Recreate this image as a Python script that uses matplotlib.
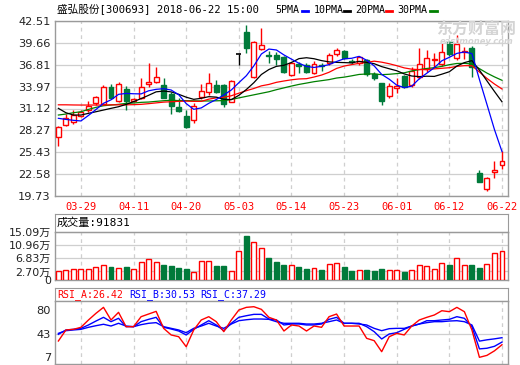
import matplotlib
matplotlib.use('Agg')
import matplotlib.pyplot as plt
from matplotlib.patches import Rectangle
from matplotlib.lines import Line2D
import pandas as pd

plt.rcParams['font.family'] = ['DejaVu Sans', 'Noto Sans CJK SC']

W, H = 520, 365

# OHLC theo ngày (60 phiên, 03-26 .. 06-22)
opens = [27.37, 28.97, 29.40, 30.18, 30.92, 31.79, 31.66, 33.96, 32.09, 33.66,
         32.09, 32.45, 34.31, 34.53, 34.18, 33.00, 31.31, 30.14, 29.62, 32.65,
         33.23, 34.18, 34.18, 32.00, 38.17, 41.12, 35.26, 38.83, 38.05, 38.08,
         37.86, 35.48, 36.85, 36.78, 35.70, 36.80, 37.08, 38.17, 38.60, 37.30,
         37.00, 37.43, 35.57, 34.40, 32.80, 33.80, 35.30, 34.20, 35.20, 36.20,
         37.40, 36.90, 39.72, 37.65, 38.50, 39.03, 22.76, 20.60, 22.80, 23.72]
closes = [28.71, 29.92, 30.27, 30.70, 31.48, 32.58, 33.96, 32.52, 34.27, 32.09,
          32.35, 33.88, 34.53, 35.22, 32.52, 31.48, 30.83, 28.75, 31.48, 33.43,
          34.48, 33.30, 31.70, 34.74, 38.17, 39.04, 39.74, 39.39, 37.95, 37.56,
          35.83, 37.00, 36.70, 35.91, 36.87, 36.60, 38.08, 38.74, 37.65, 37.21,
          37.86, 35.57, 35.05, 32.09, 34.10, 34.00, 33.96, 36.00, 36.90, 37.70,
          37.60, 38.47, 38.25, 39.46, 38.60, 36.56, 21.59, 22.04, 23.10, 24.28]
highs = [28.80, 30.36, 30.90, 30.88, 32.09, 32.75, 34.18, 34.31, 34.61, 34.09,
         32.50, 35.13, 37.00, 36.56, 35.13, 33.23, 32.45, 30.92, 31.79, 34.31,
         35.70, 34.83, 34.31, 34.83, 38.17, 41.99, 39.90, 41.56, 38.60, 38.43,
         38.00, 37.20, 37.20, 37.00, 37.30, 37.00, 38.30, 39.03, 38.70, 37.50,
         38.00, 37.60, 35.90, 34.50, 34.40, 35.05, 35.50, 36.50, 38.95, 38.74,
         38.30, 39.69, 39.90, 40.69, 39.10, 39.25, 23.10, 22.20, 24.28, 25.55]
lows = [26.23, 28.84, 29.10, 30.00, 30.66, 31.60, 31.57, 32.44, 31.92, 30.92,
        31.95, 32.35, 33.96, 34.40, 32.45, 30.44, 30.70, 28.54, 29.19, 32.35,
        32.87, 33.10, 31.35, 31.92, 36.78, 38.38, 35.13, 38.70, 37.00, 36.78,
        35.70, 35.40, 35.70, 35.80, 35.57, 36.00, 36.80, 38.00, 37.50, 36.90,
        36.80, 35.40, 34.80, 31.57, 32.45, 33.18, 33.80, 33.90, 35.00, 35.90,
        36.50, 36.60, 38.00, 37.40, 37.50, 35.20, 21.50, 20.42, 22.10, 23.23]

# khối lượng (万)
volumes = [2.89, 3.21, 3.53, 3.32, 3.32, 3.96, 4.82, 3.96, 3.85, 4.17,
           3.32, 5.67, 6.74, 5.78, 4.82, 4.49, 3.64, 3.32, 2.57, 6.10,
           6.10, 4.49, 4.49, 2.89, 8.99, 13.80, 12.10, 10.17, 6.85, 5.56,
           4.82, 4.71, 4.17, 3.53, 3.74, 3.21, 5.03, 5.35, 4.17, 2.89,
           3.21, 3.21, 2.89, 3.53, 3.21, 3.21, 2.57, 3.21, 4.71, 4.39,
           3.53, 5.35, 4.82, 6.96, 4.71, 4.82, 3.85, 5.03, 8.56, 9.18]

# giá trị MA đầu chuỗi (trước khi đủ cửa sổ)
ma5_head = [29.84, 29.70, 29.58, 29.50]
ma10_head = [31.14, 30.57, 30.27, 30.27, 30.49, 30.70, 30.92, 31.14, 31.35]
ma20_head = [31.60, 31.60, 31.58, 31.57, 31.57, 31.57, 31.57, 31.60, 31.60, 31.60,
             31.62, 31.66, 31.75, 31.85, 31.95, 32.00, 32.05, 32.08, 32.05]
ma30_head = [30.27, 30.40, 30.57, 30.70, 31.00, 31.27, 31.48, 31.57, 31.66, 31.79,
             31.83, 31.92, 31.96, 32.05, 32.13, 32.20, 32.15, 32.15, 32.12, 32.10,
             32.10, 32.12, 32.15, 32.30, 32.50, 32.70, 32.90, 33.10, 33.30]

# RSI
rsi_a = [32.2, 49.2, 50.2, 53.3, 64.6, 74.9, 84.1, 64.6, 76.4, 54.3,
         54.3, 69.7, 73.8, 77.9, 51.7, 41.5, 38.8, 23.4, 49.2, 64.6,
         69.7, 62.0, 46.6, 64.6, 80.0, 84.1, 85.1, 81.0, 68.7, 64.6,
         47.6, 56.9, 55.3, 47.6, 55.3, 53.3, 69.7, 73.8, 55.3, 55.3,
         55.3, 36.3, 32.7, 15.7, 38.8, 44.0, 41.5, 55.3, 64.6, 68.7,
         72.3, 78.9, 77.4, 84.1, 77.4, 49.2, 7.0, 10.0, 17.0, 26.42]
rsi_b = [42.5, 49.2, 50.2, 51.7, 56.9, 63.0, 68.7, 62.0, 67.2, 54.3,
         54.3, 62.0, 65.6, 68.7, 53.3, 50.7, 47.6, 41.5, 50.2, 56.9,
         63.5, 56.9, 48.1, 59.5, 68.7, 71.2, 73.3, 73.3, 66.1, 64.6,
         56.9, 58.4, 58.4, 56.9, 56.9, 58.4, 65.6, 68.7, 59.5, 59.5,
         59.5, 54.3, 46.6, 35.3, 43.0, 45.0, 50.2, 55.3, 58.4, 63.5,
         63.5, 64.6, 65.6, 69.7, 67.2, 54.3, 20.0, 21.0, 24.0, 30.53]
rsi_c = [44.0, 48.1, 49.2, 50.2, 53.3, 55.8, 58.0, 55.3, 59.5, 55.3,
         54.3, 57.4, 59.5, 60.5, 54.3, 51.7, 49.2, 45.0, 51.7, 55.3,
         59.5, 55.3, 51.7, 58.4, 63.5, 65.0, 66.1, 66.1, 65.6, 62.0,
         59.5, 59.5, 59.5, 58.4, 58.4, 59.5, 62.0, 64.6, 59.5, 59.5,
         58.4, 56.9, 51.7, 48.1, 51.2, 51.7, 51.7, 55.3, 58.4, 60.5,
         62.0, 62.0, 63.0, 63.5, 62.0, 56.9, 32.0, 34.0, 35.5, 37.29]

price_ticks = [19.73, 22.58, 25.43, 28.27, 31.12, 33.97, 36.81, 39.66, 42.51]
vol_ticks = [0, 2.70, 6.83, 10.96, 15.09]
vol_labels = ['0', '2.70万', '6.83万', '10.96万', '15.09万']
rsi_ticks = [7, 43, 80]
date_pos = [3, 10, 17, 24, 31, 38, 45, 52, 59]
date_labels = ['03-29', '04-11', '04-20', '05-03', '05-14', '05-23', '06-01', '06-12', '06-22']

RED = '#ff0000'
GREEN = '#007a3a'
BLUE = '#0000ff'
GRID = '#cfcfcf'
FRAME = '#9a9a9a'
MONO = ['DejaVu Sans Mono', 'Noto Sans CJK SC']

fig = plt.figure(figsize=(W / 100, H / 100), dpi=100)
fig.patch.set_facecolor('white')


def px_axes(l, t, r, b):
    return fig.add_axes([l / W, 1 - b / H, (r - l) / W, (b - t) / H])


def px_text(x, y, s, **kw):
    fig.text(x / W, 1 - y / H, s, va='center', ha='left', **kw)


def style(ax):
    for sp in ax.spines.values():
        sp.set_color(FRAME)
        sp.set_linewidth(1)
    ax.tick_params(length=0, pad=3, labelsize=8.2, labelcolor='#222222')
    ax.set_xlim(-0.45, 59.8)
    for p in date_pos:
        ax.axvline(p, color=GRID, lw=0.9, ls=(0, (3, 3)), zorder=0)


def candle_color(i):
    if closes[i] > opens[i]:
        return RED
    if closes[i] < opens[i]:
        return GREEN
    return 'black'


# 1. Biểu đồ giá
ax_p = px_axes(55, 21, 508, 196)
style(ax_p)
ax_p.set_ylim(19.73, 42.51)
ax_p.set_yticks(price_ticks)
ax_p.set_yticklabels([f'{v:.2f}' for v in price_ticks])
ax_p.yaxis.grid(True, color=GRID, lw=0.9)
ax_p.set_axisbelow(True)
ax_p.set_xticks(date_pos)
ax_p.set_xticklabels(date_labels, color=RED, fontfamily='DejaVu Sans Mono', fontsize=7.5)
ax_p.tick_params(axis='x', pad=4)

bw = 0.66
for i in range(len(closes)):
    c = candle_color(i)
    ax_p.vlines(i, lows[i], highs[i], color=c, lw=1, zorder=2)
    lo = min(opens[i], closes[i])
    h = abs(closes[i] - opens[i])
    if h < 0.02:
        ax_p.hlines(opens[i], i - bw / 2, i + bw / 2, color=c, lw=1.2, zorder=3)
    else:
        face = GREEN if c == GREEN else 'white'
        ax_p.add_patch(Rectangle((i - bw / 2, lo), bw, h, facecolor=face,
                                 edgecolor=c, lw=1, zorder=3))

# Đường trung bình
close_s = pd.Series(closes)
x = list(range(len(closes)))
for n, head, col in [(30, ma30_head, 'green'), (20, ma20_head, RED),
                     (10, ma10_head, 'black'), (5, ma5_head, BLUE)]:
    ma = close_s.rolling(n).mean()
    ma.iloc[:len(head)] = head
    ax_p.plot(x, ma, color=col, lw=0.9, zorder=4)

# watermark
px_text(436, 29, '东方财富网', color='#d4d4d4', fontsize=11.5, fontweight='bold',
        family=['Noto Sans CJK SC'])
px_text(440, 41, 'eastmoney.com', color='#d4d4d4', fontsize=6.0, fontweight='bold',
        style='italic')

# tiêu đề và chú thích
px_text(57, 10, '盛弘股份[300693] 2018-06-22 15:00', fontsize=7.7, family=MONO, color='black')
legend = [(275.7, '5PMA', BLUE, 302, 308), (313.3, '10PMA', 'black', 344, 350),
          (355, '20PMA', RED, 386, 392), (397, '30PMA', 'green', 430, 437)]
for tx, lab, col, l1, l2 in legend:
    px_text(tx, 10, lab, fontsize=7.2, family=MONO, color='black')
    fig.add_artist(Line2D([l1 / W, l2 / W], [1 - 11 / H, 1 - 11 / H],
                          transform=fig.transFigure, color=col, lw=2))

# 2. Khối lượng
ax_vh = px_axes(55, 214, 508, 232)
ax_vh.set_xticks([]); ax_vh.set_yticks([])
for sp in ax_vh.spines.values():
    sp.set_color(FRAME)
px_text(57, 223, '成交量:91831', fontsize=8, family=MONO, color='black')

ax_v = px_axes(55, 232, 508, 280)
style(ax_v)
ax_v.set_ylim(0, 15.09)
ax_v.set_yticks(vol_ticks)
ax_v.set_yticklabels(vol_labels)
ax_v.tick_params(labelsize=7.9)
ax_v.yaxis.grid(True, color=GRID, lw=0.9)
ax_v.set_axisbelow(True)
ax_v.set_xticks([])
for i, v in enumerate(volumes):
    c = GREEN if candle_color(i) == GREEN else RED
    face = GREEN if c == GREEN else 'white'
    ax_v.add_patch(Rectangle((i - bw / 2, 0), bw, v, facecolor=face,
                             edgecolor=c, lw=1, zorder=3))

# 3. RSI
ax_rh = px_axes(55, 288, 508, 301)
ax_rh.set_xticks([]); ax_rh.set_yticks([])
for sp in ax_rh.spines.values():
    sp.set_color(FRAME)
px_text(57, 294.5, 'RSI_A:26.42', fontsize=7.1, family=MONO, color=RED)
px_text(129, 294.5, 'RSI_B:30.53', fontsize=7.1, family=MONO, color=BLUE)
px_text(200.7, 294.5, 'RSI_C:37.29', fontsize=7.1, family=MONO, color=BLUE)

ax_r = px_axes(55, 301, 508, 364)
style(ax_r)
ax_r.set_ylim(-3.3, 93.9)
ax_r.set_yticks(rsi_ticks)
ax_r.set_yticklabels([str(v) for v in rsi_ticks])
ax_r.axhline(43, color=GRID, lw=0.9, zorder=0)
ax_r.set_xticks([])
ax_r.plot(x, rsi_c, color=BLUE, lw=1, zorder=3)
ax_r.plot(x, rsi_b, color=BLUE, lw=1, zorder=3)
ax_r.plot(x, rsi_a, color=RED, lw=1, zorder=4)

fig.savefig('out.png', dpi=100, facecolor='white')
